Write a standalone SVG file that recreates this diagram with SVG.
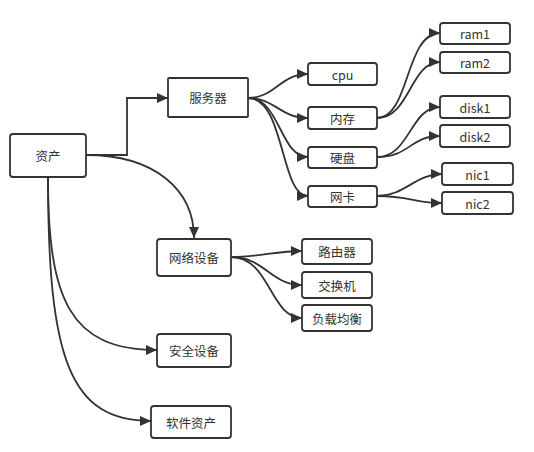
<svg xmlns="http://www.w3.org/2000/svg" width="534" height="452" viewBox="0 0 534 452">
<style>
.box{fill:#fff;stroke:#333;stroke-width:1.8}
.t{font-family:"Noto Sans CJK SC","Liberation Sans",sans-serif;font-size:12.5px;fill:#333;text-anchor:middle;dominant-baseline:central}
.c{fill:none;stroke:#333;stroke-width:1.8;marker-end:url(#a)}
.n{fill:none;stroke:#333;stroke-width:1.8}
</style>
<defs>
<marker id="a" markerUnits="userSpaceOnUse" markerWidth="12" markerHeight="10" refX="11" refY="5" orient="auto">
<path d="M0,0 L11,5 L0,10 Z" fill="#333"/>
</marker>
</defs>
<rect width="534" height="452" fill="#fff"/>
<g id="connectors">
<path class="c" d="M86,155 H127 V98 H168"/>
<path class="c" d="M86,155 C155,155 194,190 194,238"/>
<path class="c" d="M48,177 C48,300 70,350 157,350"/>
<path class="c" d="M48,177 C48,360 70,421 151,421"/>
<path class="c" d="M248,98 C275,98 280,74 308,74"/>
<path class="c" d="M248,98 C275,98 280,118 308,118"/>
<path class="c" d="M248,98 C280,98 280,157 308,157"/>
<path class="c" d="M248,98 C285,98 280,196 308,196"/>
<path class="c" d="M377,118 C410,118 405,33 440,33"/>
<path class="c" d="M377,118 C410,118 410,62 440,62"/>
<path class="c" d="M377,157 C410,157 410,107 440,107"/>
<path class="c" d="M377,157 C410,157 410,136 440,136"/>
<path class="c" d="M377,196 C405,196 415,174 442,174"/>
<path class="c" d="M377,196 C410,196 415,203 442,203"/>
<path class="c" d="M231,257 C260,257 275,251 302,251"/>
<path class="c" d="M231,257 C265,257 270,285 302,285"/>
<path class="c" d="M231,257 C270,257 270,318 302,318"/>
</g>
<g id="n-zichan"><rect class="box" x="10" y="134" width="76" height="43" rx="3"/><text class="t" x="48" y="155.5">资产</text></g>
<g id="n-fuwuqi"><rect class="box" x="168" y="78" width="80" height="39" rx="1"/><text class="t" x="208" y="97.5">服务器</text></g>
<g id="n-wangluo"><rect class="box" x="157" y="239" width="74" height="37" rx="3"/><text class="t" x="194" y="257.5">网络设备</text></g>
<g id="n-anquan"><rect class="box" x="157" y="334" width="74" height="33" rx="3"/><text class="t" x="194" y="350.5">安全设备</text></g>
<g id="n-ruanjian"><rect class="box" x="151" y="406" width="80" height="32" rx="3"/><text class="t" x="191" y="422">软件资产</text></g>
<g id="n-cpu"><rect class="box" x="308" y="63" width="69" height="22" rx="3"/><text class="t" x="342.5" y="74">cpu</text></g>
<g id="n-neicun"><rect class="box" x="308" y="107" width="69" height="22" rx="3"/><text class="t" x="342.5" y="118">内存</text></g>
<g id="n-yingpan"><rect class="box" x="308" y="147" width="69" height="21" rx="3"/><text class="t" x="342.5" y="157.5">硬盘</text></g>
<g id="n-wangka"><rect class="box" x="308" y="186" width="69" height="21" rx="3"/><text class="t" x="342.5" y="196.5">网卡</text></g>
<g id="n-ram1"><rect class="box" x="440" y="23" width="70" height="21" rx="3"/><text class="t" x="475" y="33.5">ram1</text></g>
<g id="n-ram2"><rect class="box" x="440" y="52" width="70" height="21" rx="3"/><text class="t" x="475" y="62.5">ram2</text></g>
<g id="n-disk1"><rect class="box" x="440" y="96" width="70" height="22" rx="3"/><text class="t" x="475" y="107">disk1</text></g>
<g id="n-disk2"><rect class="box" x="440" y="125" width="70" height="22" rx="3"/><text class="t" x="475" y="136">disk2</text></g>
<g id="n-nic1"><rect class="box" x="442" y="163" width="71" height="22" rx="3"/><text class="t" x="477.5" y="174">nic1</text></g>
<g id="n-nic2"><rect class="box" x="442" y="192" width="71" height="22" rx="3"/><text class="t" x="477.5" y="203">nic2</text></g>
<g id="n-luyou"><rect class="box" x="302" y="239" width="70" height="25" rx="3"/><text class="t" x="337" y="251.5">路由器</text></g>
<g id="n-jiaohuan"><rect class="box" x="302" y="272" width="70" height="26" rx="3"/><text class="t" x="337" y="285">交换机</text></g>
<g id="n-fuzai"><rect class="box" x="302" y="305" width="70" height="26" rx="3"/><text class="t" x="337" y="318">负载均衡</text></g>
</svg>
